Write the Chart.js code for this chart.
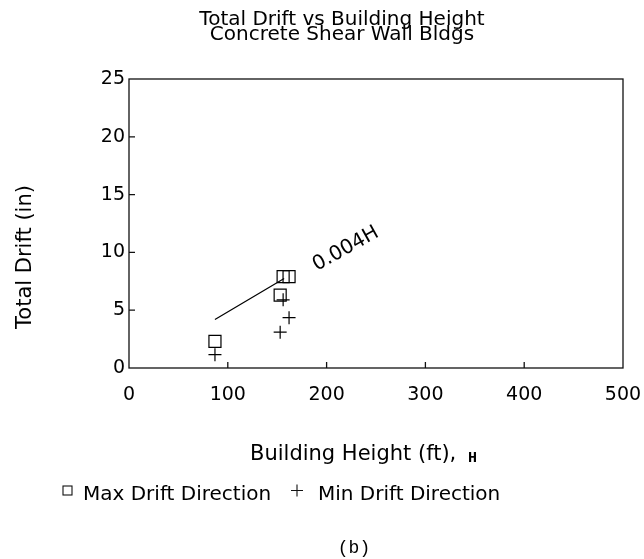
<!DOCTYPE html>
<html>
<head>
<meta charset="utf-8">
<title>Total Drift vs Building Height</title>
<script src="https://cdn.jsdelivr.net/npm/chart.js@4/dist/chart.umd.min.js"></script>
<style>
  body { margin: 0; background: #fff; }
  canvas { display: block; }
</style>
</head>
<body>
<canvas id="chart" width="644" height="559"></canvas>
<script>
// Data (building height in ft, drift in inches)
const maxHeight = [87, 153, 156, 162];
const maxDrift  = [2.3, 6.3, 7.9, 7.9];
const minHeight = [87, 153, 156, 162];
const minDrift  = [1.15, 3.1, 5.9, 4.35];
// 0.004H reference line, two end points
const refHeight = [87, 157];
const refDrift  = [4.2, 7.75];

const xTicks = [0, 100, 200, 300, 400, 500];
const yTicks = [0, 5, 10, 15, 20, 25];

const titleLines = ['Total Drift vs Building Height', 'Concrete Shear Wall Bldgs'];
const legendLabels = ['Max Drift Direction', 'Min Drift Direction'];

const FONT = '"DejaVu Sans", Arial, sans-serif';
Chart.defaults.font.family = FONT;
Chart.defaults.color = '#000';

function pts(xs, ys){
  return xs.map((x, i) => ({ x: x, y: ys[i] }));
}

// frame, inward ticks and all the text around the plot
const decor = {
  id: 'decor',
  afterDraw(chart){
    const ctx = chart.ctx;
    const a = chart.chartArea;
    const sx = chart.scales.x, sy = chart.scales.y;
    ctx.save();
    ctx.strokeStyle = '#111';
    ctx.lineWidth = 1.3;
    ctx.strokeRect(a.left, a.top, a.right - a.left, a.bottom - a.top);

    ctx.beginPath();
    xTicks.slice(1, -1).forEach(v => {
      const px = sx.getPixelForValue(v);
      ctx.moveTo(px, a.bottom); ctx.lineTo(px, a.bottom - 6);
    });
    yTicks.slice(1, -1).forEach(v => {
      const py = sy.getPixelForValue(v);
      ctx.moveTo(a.left, py); ctx.lineTo(a.left + 6, py);
    });
    ctx.stroke();

    ctx.fillStyle = '#000';
    // title
    ctx.font = '20px ' + FONT;
    ctx.textAlign = 'center';
    ctx.textBaseline = 'alphabetic';
    ctx.fillText(titleLines[0], 342, 25);
    ctx.fillText(titleLines[1], 342, 40);

    // y axis title
    ctx.save();
    ctx.translate(26, 257);
    ctx.rotate(-Math.PI / 2);
    ctx.font = '21px ' + FONT;
    ctx.textBaseline = 'middle';
    ctx.fillText('Total Drift (in)', 0, 0);
    ctx.restore();

    // x axis title
    ctx.textAlign = 'left';
    ctx.font = '21px ' + FONT;
    ctx.fillText('Building Height (ft),', 250, 460);
    ctx.font = 'bold 15px "Liberation Mono", monospace';
    ctx.fillText('H', 468, 462);

    // legend
    ctx.lineWidth = 1.1;
    ctx.strokeRect(63, 486, 9, 9);
    ctx.beginPath();
    ctx.moveTo(291, 490.5); ctx.lineTo(303, 490.5);
    ctx.moveTo(297, 484.5); ctx.lineTo(297, 496.5);
    ctx.stroke();
    ctx.font = '20px ' + FONT;
    ctx.fillText(legendLabels[0], 83, 500);
    ctx.fillText(legendLabels[1], 318, 500);

    // panel letter
    ctx.font = '18px "Liberation Mono", monospace';
    ctx.textAlign = 'center';
    ctx.fillText('(b)', 354, 553);

    // label on the reference line
    ctx.save();
    ctx.translate(sx.getPixelForValue(219.5), sy.getPixelForValue(10.3));
    ctx.rotate(-29 * Math.PI / 180);
    ctx.font = '20px ' + FONT;
    ctx.textAlign = 'center';
    ctx.textBaseline = 'middle';
    ctx.fillText('0.004H', 0, 0);
    ctx.restore();

    ctx.restore();
  }
};

new Chart(document.getElementById('chart'), {
  type: 'scatter',
  data: {
    datasets: [
      {
        label: legendLabels[0],
        data: pts(maxHeight, maxDrift),
        pointStyle: 'rect',
        radius: 8.5,
        borderColor: '#000',
        backgroundColor: 'rgba(0,0,0,0)',
        borderWidth: 1.2
      },
      {
        label: legendLabels[1],
        data: pts(minHeight, minDrift),
        pointStyle: 'cross',
        radius: 6.5,
        borderColor: '#000',
        borderWidth: 1.2
      },
      {
        type: 'line',
        label: '0.004H',
        data: pts(refHeight, refDrift),
        borderColor: '#000',
        borderWidth: 1.2,
        pointRadius: 0,
        fill: false
      }
    ]
  },
  options: {
    responsive: false,
    animation: false,
    layout: { padding: { top: 79, right: 21, bottom: 0, left: 0 } },
    plugins: {
      legend: { display: false },
      title: { display: false },
      tooltip: { enabled: false }
    },
    scales: {
      x: {
        type: 'linear',
        min: 0, max: 500,
        afterBuildTicks: s => { s.ticks = xTicks.map(v => ({ value: v })); },
        afterFit: s => { s.height = 191; s.paddingLeft = 0; s.paddingRight = 0; },
        grid: { display: false, drawTicks: false },
        border: { display: false },
        ticks: { font: { size: 19 }, color: '#000', padding: 16, maxRotation: 0 }
      },
      y: {
        type: 'linear',
        min: 0, max: 25,
        afterBuildTicks: s => { s.ticks = yTicks.map(v => ({ value: v })); },
        afterFit: s => { s.width = 129; s.paddingTop = 0; s.paddingBottom = 0; },
        grid: { display: false, drawTicks: false },
        border: { display: false },
        ticks: { font: { size: 19 }, color: '#000', padding: 4 }
      }
    }
  },
  plugins: [decor]
});
</script>
</body>
</html>
